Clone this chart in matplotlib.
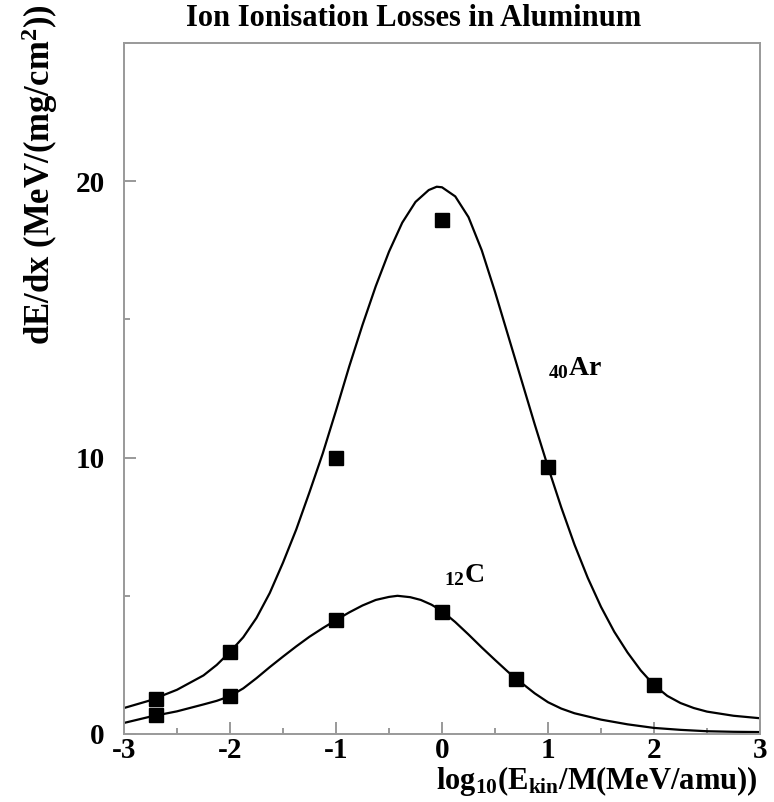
import numpy as np
import matplotlib
matplotlib.use('Agg')
import matplotlib.pyplot as plt
from matplotlib.ticker import MultipleLocator

plt.rcParams['font.family'] = 'Liberation Serif'
plt.rcParams['font.weight'] = 'bold'
plt.rcParams['mathtext.default'] = 'regular'
plt.rcParams['axes.unicode_minus'] = False

# measured points, log10(Ekin/M) vs dE/dx
ar_x = [-2.7, -2, -1, 0, 1, 2]
ar_y = [1.27, 2.97, 10.0, 18.6, 9.66, 1.77]
c_x = [-2.7, -2, -1, 0, 0.7]
c_y = [0.69, 1.37, 4.12, 4.41, 1.99]

# calculated curves
ar_curve_x = [-3, -2.75, -2.5, -2.25, -2.125, -2, -1.875, -1.75, -1.625, -1.5,
              -1.375, -1.25, -1.125, -1, -0.875, -0.75, -0.625, -0.5, -0.375,
              -0.25, -0.125, -0.05, 0, 0.125, 0.25, 0.375, 0.5, 0.625, 0.75,
              0.875, 1, 1.125, 1.25, 1.375, 1.5, 1.625, 1.75, 1.875, 2, 2.125,
              2.25, 2.375, 2.5, 2.75, 3]
ar_curve_y = [0.94, 1.22, 1.6, 2.12, 2.5, 2.97, 3.5, 4.2, 5.1, 6.2,
              7.4, 8.75, 10.15, 11.7, 13.3, 14.8, 16.2, 17.45, 18.5,
              19.25, 19.68, 19.8, 19.78, 19.45, 18.7, 17.5, 16.0, 14.4, 12.8,
              11.2, 9.66, 8.2, 6.85, 5.65, 4.6, 3.7, 2.95, 2.3, 1.77, 1.38,
              1.12, 0.94, 0.81, 0.66, 0.57]
c_curve_x = [-3, -2.75, -2.5, -2.25, -2.125, -2, -1.875, -1.75, -1.625, -1.5,
             -1.375, -1.25, -1.125, -1, -0.875, -0.75, -0.625, -0.5, -0.42,
             -0.3, -0.2, -0.1, 0, 0.125, 0.25, 0.375, 0.5, 0.625, 0.75, 0.875,
             1, 1.125, 1.25, 1.5, 1.75, 2, 2.25, 2.5, 2.75, 3]
c_curve_y = [0.40, 0.63, 0.82, 1.07, 1.2, 1.37, 1.65, 2.02, 2.42, 2.8,
             3.17, 3.52, 3.83, 4.12, 4.4, 4.65, 4.85, 4.96, 5.0,
             4.95, 4.85, 4.68, 4.45, 4.05, 3.6, 3.13, 2.68, 2.24, 1.85, 1.47,
             1.15, 0.92, 0.75, 0.52, 0.35, 0.22, 0.15, 0.1, 0.08, 0.07]

fig = plt.figure(figsize=(7.74, 8.02), dpi=100)
ax = fig.add_axes([124/774, 1 - 734/802, 636/774, 691/802])

ax.plot(ar_curve_x, ar_curve_y, color='black', lw=1.6)
ax.plot(c_curve_x, c_curve_y, color='black', lw=1.6)
ax.plot(ar_x, ar_y, 's', color='black', ms=9.5)
ax.plot(c_x, c_y, 's', color='black', ms=9.5)

ax.text(1.0, 13.0, r'$_{40}$Ar', fontsize=20, fontweight='bold')
ax.text(0.02, 5.5, r'$_{12}$C', fontsize=20, fontweight='bold')

ax.set_xlim(-3, 3)
ax.set_ylim(0, 25)
ax.xaxis.set_major_locator(MultipleLocator(1))
ax.xaxis.set_minor_locator(MultipleLocator(0.5))
ax.yaxis.set_major_locator(MultipleLocator(10))
ax.yaxis.set_minor_locator(MultipleLocator(5))
ax.tick_params(which='both', direction='in', color='#888888', width=1.2,
               labelsize=21)
ax.tick_params(which='major', length=8.5)
ax.tick_params(which='minor', length=4.3)
ax.tick_params(axis='x', pad=2)
ax.tick_params(axis='y', pad=14)
for s in ax.spines.values():
    s.set_color('#999999')
    s.set_linewidth(1.4)

fig.text(414/774, 1 - 19/802, 'Ion Ionisation Losses in Aluminum',
         fontsize=22, fontweight='bold', ha='center', va='center')
fig.text(757/774, 1 - 781/802, r'log$_{10}$(E$_{kin}$/M(MeV/amu))',
         fontsize=22, fontweight='bold', ha='right', va='center')
fig.text(40/774, 1 - 4/802, r'dE/dx (MeV/(mg/cm$^{2}$))', fontsize=25,
         fontweight='bold', rotation=90, ha='center', va='top')

fig.savefig('out.png', dpi=100)
